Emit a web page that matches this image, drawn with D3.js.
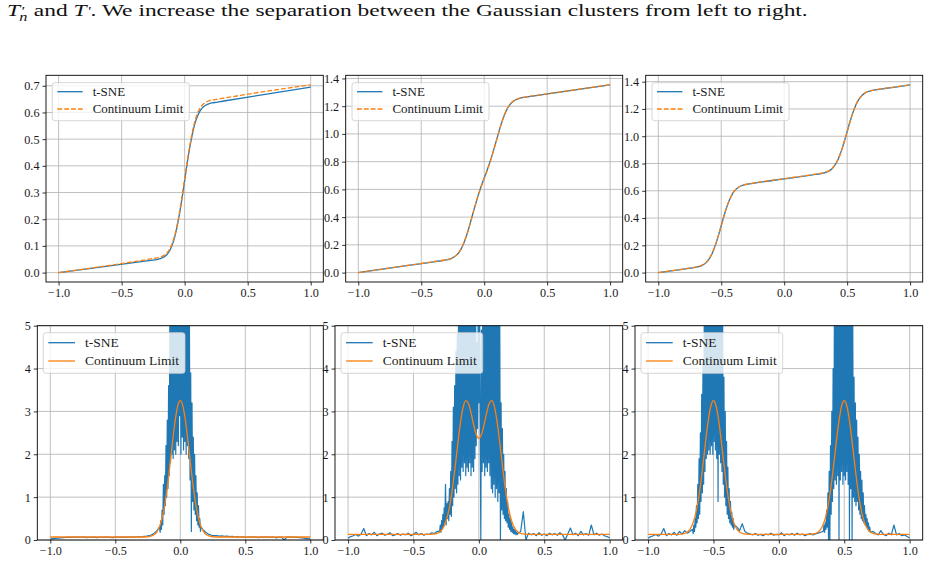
<!DOCTYPE html>
<html><head><meta charset="utf-8">
<script src="https://cdn.jsdelivr.net/npm/d3@7"></script>
<style>html,body{margin:0;padding:0;background:#fff;} svg{display:block;} text{white-space:pre;}</style>
</head><body>
<svg id="chart" width="930" height="582" xmlns="http://www.w3.org/2000/svg"></svg>
<script>
// ================= DATA =================
const seriesNames = ["t-SNE", "Continuum Limit"];
const xTicks = [-1, -0.5, 0, 0.5, 1];
const yTicksTop1 = [0, 0.1, 0.2, 0.3, 0.4, 0.5, 0.6, 0.7];
const yTicksTop23 = [0, 0.2, 0.4, 0.6, 0.8, 1.0, 1.2, 1.4];
const yTicksBottom = [0, 1, 2, 3, 4, 5];
const titleRest = ". We increase the separation between the Gaussian clusters from left to right.";

// ---- top row (cumulative) ----
const gridX1 = [-1,-0.3,-0.25,-0.22,-0.2,-0.18,-0.16,-0.14,-0.12,-0.1,-0.08,-0.06,-0.04,-0.02,0,0.02,0.04,0.06,0.08,0.1,0.12,0.14,0.16,0.18,0.2,0.22,0.25,0.3,1];
const cdfTsne1 = [0,0.044,0.047,0.049,0.051,0.055,0.06,0.068,0.081,0.102,0.131,0.172,0.222,0.281,0.345,0.409,0.467,0.516,0.556,0.584,0.604,0.617,0.625,0.63,0.634,0.636,0.638,0.642,0.695];
const cdfCont1 = [0,0.049,0.053,0.055,0.057,0.061,0.066,0.074,0.087,0.108,0.137,0.178,0.228,0.287,0.351,0.415,0.474,0.524,0.565,0.594,0.615,0.628,0.636,0.641,0.645,0.647,0.649,0.653,0.704];

const gridX2 = [-1,-0.6,-0.4,-0.3,-0.28,-0.26,-0.24,-0.22,-0.2,-0.18,-0.16,-0.14,-0.12,-0.1,-0.08,-0.06,-0.04,-0.02,0,0.02,0.04,0.06,0.08,0.1,0.12,0.14,0.16,0.18,0.2,0.22,0.24,0.26,0.28,0.3,0.4,0.6,1];
const cdfTsne2 = [0,0.052,0.078,0.092,0.096,0.102,0.112,0.126,0.146,0.176,0.217,0.267,0.327,0.392,0.458,0.521,0.58,0.633,0.682,0.731,0.782,0.838,0.899,0.963,1.026,1.085,1.135,1.176,1.206,1.227,1.241,1.25,1.257,1.261,1.275,1.301,1.354];
const cdfCont2 = [0,0.053,0.079,0.093,0.097,0.103,0.113,0.127,0.148,0.178,0.219,0.269,0.328,0.392,0.457,0.519,0.577,0.629,0.677,0.726,0.778,0.835,0.897,0.962,1.026,1.085,1.136,1.177,1.207,1.228,1.242,1.251,1.258,1.262,1.276,1.302,1.355];

const gridX3 = [-1,-0.8,-0.75,-0.72,-0.7,-0.68,-0.66,-0.64,-0.62,-0.6,-0.58,-0.56,-0.54,-0.52,-0.5,-0.48,-0.46,-0.44,-0.42,-0.4,-0.38,-0.36,-0.34,-0.32,-0.3,-0.28,-0.25,-0.2,0,0.2,0.25,0.28,0.3,0.32,0.34,0.36,0.38,0.4,0.42,0.44,0.46,0.48,0.5,0.52,0.54,0.56,0.58,0.6,0.62,0.64,0.66,0.68,0.7,0.72,0.75,0.8,1];
const cdfCont3 = [0,0.026,0.033,0.037,0.041,0.045,0.052,0.061,0.075,0.097,0.128,0.169,0.22,0.28,0.344,0.409,0.469,0.52,0.561,0.592,0.613,0.628,0.637,0.643,0.648,0.651,0.656,0.663,0.689,0.715,0.722,0.726,0.73,0.734,0.74,0.75,0.764,0.786,0.817,0.858,0.909,0.969,1.033,1.098,1.157,1.209,1.25,1.281,1.302,1.317,1.326,1.332,1.337,1.34,1.345,1.351,1.378];
const cdfTsne3 = [0,0.025,0.032,0.036,0.04,0.044,0.05,0.059,0.073,0.095,0.126,0.168,0.22,0.28,0.345,0.41,0.47,0.521,0.562,0.593,0.613,0.628,0.637,0.643,0.647,0.65,0.655,0.662,0.687,0.713,0.72,0.724,0.728,0.732,0.738,0.748,0.762,0.784,0.815,0.857,0.909,0.97,1.034,1.099,1.158,1.209,1.25,1.28,1.301,1.316,1.325,1.331,1.336,1.339,1.344,1.35,1.377];

// ---- bottom row (densities): continuum limit ----
const densContX1 = gridX1;
const densCont1 = [0.07,0.07,0.076,0.094,0.127,0.192,0.312,0.513,0.817,1.234,1.74,2.284,2.777,3.125,3.25,3.125,2.777,2.284,1.74,1.234,0.817,0.513,0.312,0.192,0.127,0.094,0.076,0.07,0.07];
const densContX2 = [-1,-0.4,-0.35,-0.32,-0.3,-0.28,-0.26,-0.24,-0.22,-0.2,-0.18,-0.16,-0.14,-0.12,-0.1,-0.08,-0.06,-0.04,-0.02,0,0.02,0.04,0.06,0.08,0.1,0.12,0.14,0.16,0.18,0.2,0.22,0.24,0.26,0.28,0.3,0.32,0.35,0.4,1];
const densCont2 = [0.13,0.13,0.136,0.154,0.185,0.25,0.36,0.56,0.85,1.25,1.74,2.27,2.75,3.1,3.25,3.19,2.97,2.69,2.46,2.37,2.46,2.69,2.97,3.19,3.25,3.1,2.75,2.27,1.74,1.25,0.85,0.56,0.36,0.25,0.185,0.154,0.136,0.13,0.13];
const densContX3 = gridX3;
const densCont3 = [0.13,0.13,0.136,0.154,0.186,0.25,0.367,0.564,0.863,1.272,1.769,2.302,2.786,3.127,3.25,3.127,2.786,2.302,1.769,1.272,0.863,0.564,0.367,0.25,0.186,0.154,0.136,0.13,0.13,0.13,0.136,0.154,0.186,0.25,0.367,0.564,0.863,1.272,1.769,2.302,2.786,3.127,3.25,3.127,2.786,2.302,1.769,1.272,0.863,0.564,0.367,0.25,0.186,0.154,0.136,0.13,0.13];

// ---- bottom row: t-SNE densities, as runs of equally spaced samples ----
const tsne1BgLeft  = [0.02,0.03,0.04,0.045,0.05,0.055,0.06,0.065,0.06,0.07,0.065,0.06,0.07,0.065,0.055,0.07,0.06,0.065,0.055,0.07,0.06,0.065,0.07,0.06,0.055,0.065,0.07,0.06,0.065,0.07,0.06,0.075,0.065,0.07,0.08,0.07,0.085,0.09,0.1,0.12,0.16,0.22];
const tsne1Core    = [0.3,0.18,0.45,0.25,0.7,0.35,1.3,0.6,1.5,0.8,2.2,1.0,2.8,1.2,3.6,1.5,5.6,1.8,6.5,2.0,5.8,1.9,7.0,2.1,6.2,2.0,5.4,2.3,6.8,2.2,5.2,2.9,6.0,2.0,7.2,2.4,5.6,2.1,6.6,2.3,5.3,2.0,7.0,2.2,6.1,1.9,5.2,1.4,3.9,0.2,3.2,0.9,2.4,0.7,2.0,0.6,1.5,0.45,1.1,0.35,0.8,0.3,0.5,0.2,0.3];
const tsne1BgRight = [0.22,0.17,0.13,0.11,0.1,0.1,0.09,0.095,0.085,0.09,0.08,0.085,0.07,0.08,0.065,0.075,0.07,0.06,0.075,0.065,0.07,0.055,0.07,0.065,0.075,0.06,0.07,0.065,0.05,0.07,0.06,0.0,0.065,0.075,0.06,0.07,0.06,0.055,0.05,0.04,0.03,0.02];

const tsne2BgLeft  = [0.04,0.08,0.1,0.13,0.09,0.14,0.27,0.1,0.15,0.12,0.18,0.1,0.14,0.16,0.11,0.13,0.17,0.1,0.12,0.15,0.11,0.14,0.12,0.16,0.1,0.13,0.18,0.12,0.15,0.11,0.14,0.13,0.17,0.15,0.2];
const tsne2Core    = [0.2,0.35,0.18,0.45,0.25,0.6,0.3,0.75,0.4,1.3, 0.35,0.85,0.5,0.9,0.45,1.2,0.6,1.6,0.55,2.3, 0.8,3.1,1.0,3.6,1.2,4.4,1.1,4.8,1.3,5.8, 1.5,6.5,1.4,5.5,1.7,7.0,1.6,6.2,1.8,5.4, 1.5,6.8,1.7,5.9,1.6,7.2,1.8,5.6,1.5,6.4, 1.7,5.2,1.6,6.6,1.9,5.7,2.2,4.6,2.6,5.4, 3.2,6.2,2.8,0.0,4.9,1.6,6.3,1.8,5.5,1.5, 7.0,1.7,5.8,1.6,6.6,1.8,5.3,1.5,6.9,1.2, 5.6,1.1,6.2,1.3,5.4,1.0,6.5,1.2,5.2,0.9, 5.9,1.1,5.1,0.0,3.2,0.7,2.6,0.6,2.0,0.5, 1.6,0.45,1.2,0.4,0.9,0.3,0.6,0.25,0.5,0.2, 0.4,0.18,0.3,0.15,0.25,0.14,0.22,0.12,0.18,0.13, 0.16];
const tsne2BgRight = [0.2,0.66,0.0,0.16,0.12,0.15,0.1,0.17,0.11,0.14,0.1,0.16,0.12,0.15,0.11,0.17,0.12,0.0,0.14,0.28,0.12,0.16,0.1,0.2,0.12,0.15,0.11,0.35,0.12,0.16,0.11,0.14,0.1,0.08,0.05];

const tsne3BgLeft  = [0.04,0.08,0.1,0.13,0.09,0.14,0.27,0.1,0.15,0.12,0.18,0.11,0.2,0.14,0.22,0.16,0.2];
const tsne3CoreL   = [0.25,0.15,0.35,0.2,0.5,0.3,0.8,0.4,1.3,0.5, 1.9,0.6,2.5,0.9,3.4,1.1,4.2,1.3,5.6,1.6, 6.4,1.9,5.5,2.0,7.0,2.1,6.0,2.0,5.3,2.2, 6.7,2.0,5.8,2.3,6.3,2.1,5.4,1.9,6.9,0.9, 5.6,2.0,6.2,1.8,5.2,1.6,5.4,1.3,3.8,1.0, 3.0,0.8,2.3,0.6,1.7,0.5,1.2,0.4,0.9,0.35, 0.65,0.3,0.5,0.25,0.35];
const tsne3BgMid   = [0.3,0.22,0.38,0.2,0.16,0.14,0.12,0.15,0.11,0.13,0.1,0.14,0.12,0.16,0.11,0.13,0.12,0.17,0.1,0.14,0.12,0.15,0.11,0.16,0.12,0.14,0.1,0.13,0.15,0.12,0.14,0.16,0.18];
const tsne3CoreR   = [0.2,0.35,0.18,0.4,0.25,0.7,0.3,1.1,0.0,1.6, 0.0,2.2,0.6,3.0,0.9,4.0,1.2,5.5,1.4,6.3, 1.3,5.6,1.5,7.0,0.0,6.1,1.4,5.4,1.6,6.8, 1.3,5.7,1.5,6.4,1.4,5.3,1.6,6.6,1.3,5.5, 0.0,6.2,1.2,5.8,0.0,5.1,1.0,3.8,0.9,3.2, 0.8,2.8,0.9,2.4,0.7,2.0,0.6,1.6,0.5,1.4, 0.45,1.1,0.4,0.8,0.35,0.6,0.3,0.5,0.25,0.4, 0.2,0.3,0.18];
const tsne3BgRight = [0.2,0.15,0.12,0.22,0.13,0.1,0.16,0.12,0.35,0.12,0.15,0.1,0.12,0.08,0.05];

// runs: [start x, spacing, samples]
const tsneRuns1 = [[-1, 0.02, tsne1BgLeft], [-0.16, 0.005, tsne1Core], [0.18, 0.02, tsne1BgRight]];
const tsneRuns2 = [[-1, 0.02, tsne2BgLeft], [-0.30, 0.005, tsne2Core], [0.32, 0.02, tsne2BgRight]];
const tsneRuns3 = [[-1, 0.02, tsne3BgLeft], [-0.66, 0.005, tsne3CoreL], [-0.32, 0.02, tsne3BgMid], [0.34, 0.005, tsne3CoreR], [0.72, 0.02, tsne3BgRight]];

// ================= DRAWING =================
const BLUE = "#1f77b4", ORANGE = "#ff7f0e";
const FONT = "'Liberation Serif','Times New Roman',serif";
const svg = d3.select("#chart");
const zip = (xs, ys) => xs.map((x, i) => [x, ys[i]]);
const fromRuns = runs => runs.flatMap(([x0, dx, ys]) => ys.map((v, i) => [x0 + i * dx, v]));
const fmtX = v => (v < 0 ? "\u2212" : "") + d3.format(".1f")(Math.abs(v));

const topBoxes = [{l:46, r:323.3}, {l:345.7, r:622.7}, {l:645.7, r:922.7}].map(b => ({...b, t:75.3, b:282}));
const botBoxes = [{l:37.3, r:323.3}, {l:335, r:622.7}, {l:635, r:922.7}].map(b => ({...b, t:325.7, b:540}));

let clipId = 0;
function makePanel(box, yDom, yTicks, yFmt) {
  const x = d3.scaleLinear().domain([-1.1, 1.1]).range([box.l, box.r]);
  const y = d3.scaleLinear().domain(yDom).range([box.b, box.t]);
  const id = "clip" + (clipId++);
  svg.append("clipPath").attr("id", id).append("rect")
    .attr("x", box.l).attr("y", box.t).attr("width", box.r - box.l).attr("height", box.b - box.t);
  const g = svg.append("g");
  const grid = g.append("g").attr("stroke", "#b0b0b0").attr("stroke-width", 0.8);
  xTicks.forEach(v => grid.append("line").attr("x1", x(v)).attr("x2", x(v)).attr("y1", box.t).attr("y2", box.b));
  yTicks.forEach(v => grid.append("line").attr("x1", box.l).attr("x2", box.r).attr("y1", y(v)).attr("y2", y(v)));
  const ax = g.append("g").attr("transform", `translate(0,${box.b})`)
    .call(d3.axisBottom(x).tickValues(xTicks).tickFormat(fmtX).tickSize(3.5).tickPadding(3));
  const ay = g.append("g").attr("transform", `translate(${box.l},0)`)
    .call(d3.axisLeft(y).tickValues(yTicks).tickFormat(yFmt).tickSize(3.5).tickPadding(3));
  [ax, ay].forEach(a => {
    a.attr("font-family", FONT).attr("font-size", 12.2);
    a.select(".domain").remove();
    a.selectAll(".tick line").attr("stroke", "#000").attr("stroke-width", 0.8);
    a.selectAll(".tick text").attr("fill", "#1a1a1a");
  });
  const plot = g.append("g").attr("clip-path", `url(#${id})`);
  return {x, y, g, plot, box};
}
function frame(p) {
  p.g.append("rect").attr("x", p.box.l).attr("y", p.box.t).attr("width", p.box.r - p.box.l).attr("height", p.box.b - p.box.t)
    .attr("fill", "none").attr("stroke", "#000").attr("stroke-width", 0.9);
}
function drawLine(p, pts, color, width, dash, curve) {
  const line = d3.line().x(d => p.x(d[0])).y(d => p.y(d[1])).curve(curve || d3.curveLinear);
  p.plot.append("path").datum(pts).attr("d", line).attr("fill", "none")
    .attr("stroke", color).attr("stroke-width", width).attr("stroke-linejoin", "round")
    .attr("stroke-dasharray", dash || null);
}
function legend(p, cfg, dashed) {
  const bx = p.box.l + cfg.ox, by = p.box.t + cfg.oy;
  const g = svg.append("g");
  g.append("rect").attr("x", bx).attr("y", by).attr("width", cfg.w).attr("height", cfg.h).attr("rx", 2.5)
    .attr("fill", "#fff").attr("fill-opacity", 0.8).attr("stroke", "#cccccc").attr("stroke-width", 0.8);
  const texts = [];
  seriesNames.forEach((name, i) => {
    const yy = by + cfg.rows[i];
    g.append("line").attr("x1", bx + 5).attr("x2", bx + cfg.lineEnd).attr("y1", yy).attr("y2", yy)
      .attr("stroke", i === 0 ? BLUE : ORANGE).attr("stroke-width", 1.3)
      .attr("stroke-dasharray", (i === 1 && dashed) ? "4.8,2.1" : null);
    texts.push(g.append("text").attr("x", bx + cfg.tx).attr("y", yy).attr("dy", "0.34em")
      .attr("font-family", FONT).attr("font-size", cfg.fs).attr("fill", "#1a1a1a").text(name));
  });
  const k = cfg.textW / texts[1].node().getComputedTextLength();
  texts.forEach(t => {
    const n = t.node();
    t.attr("textLength", n.getComputedTextLength() * k).attr("lengthAdjust", "spacingAndGlyphs");
  });
}

const topCfg = {ox:6.3, oy:7.4, w:137, h:38, rows:[9.0, 26.3], lineEnd:30.4, tx:40.4, fs:11.8, textW:90.6};
const botCfg = {ox:6, oy:7, w:141.7, h:40.6, rows:[10, 28.3], lineEnd:31.7, tx:41.7, fs:12, textW:94};

// top row
const topData = [
  {xs: gridX1, tsne: cdfTsne1, cont: cdfCont1, ticks: yTicksTop1},
  {xs: gridX2, tsne: cdfTsne2, cont: cdfCont2, ticks: yTicksTop23},
  {xs: gridX3, tsne: cdfTsne3, cont: cdfCont3, ticks: yTicksTop23}
];
topData.forEach((d, i) => {
  const ymax = d3.max(d.tsne.concat(d.cont)), ymin = 0, pad = (ymax - ymin) * 0.05;
  const p = makePanel(topBoxes[i], [ymin - pad, ymax + pad], d.ticks, d3.format(".1f"));
  drawLine(p, zip(d.xs, d.tsne), BLUE, 1.3, null, d3.curveMonotoneX);
  drawLine(p, zip(d.xs, d.cont), ORANGE, 1.3, "4.8,2.1", d3.curveMonotoneX);
  frame(p);
  legend(p, topCfg, true);
});

// bottom row
const botData = [
  {runs: tsneRuns1, cx: densContX1, cy: densCont1},
  {runs: tsneRuns2, cx: densContX2, cy: densCont2},
  {runs: tsneRuns3, cx: densContX3, cy: densCont3}
];
botData.forEach((d, i) => {
  const p = makePanel(botBoxes[i], [0, 5], yTicksBottom, d3.format("d"));
  drawLine(p, fromRuns(d.runs), BLUE, 1.2, null, d3.curveLinear);
  drawLine(p, zip(d.cx, d.cy), ORANGE, 1.3, null, d3.curveMonotoneX);
  frame(p);
  legend(p, botCfg, false);
});

// caption line at the top
const tg = svg.append("g");
const tt = tg.append("text").attr("x", 0).attr("y", 0).attr("font-family", FONT).attr("font-size", 16.6).attr("fill", "#111");
tt.append("tspan").attr("font-style", "italic").text("T");
tt.append("tspan").attr("font-style", "italic").attr("font-size", 12).attr("dx", 0.3).attr("dy", -1).text("'");
tt.append("tspan").attr("font-style", "italic").attr("font-size", 11.5).attr("dx", -3.5).attr("dy", 6).text("n");
tt.append("tspan").attr("dy", -5).attr("dx", 0.5).text(" and ");
tt.append("tspan").attr("font-style", "italic").text("T");
tt.append("tspan").attr("font-style", "italic").attr("font-size", 12).attr("dx", 0.3).attr("dy", -1).text("'");
tt.append("tspan").attr("dy", 1).text(titleRest);
const tw = tt.node().getBBox().width;
tg.attr("transform", `translate(7,16) scale(${801 / tw},1)`);
</script>
</body></html>
